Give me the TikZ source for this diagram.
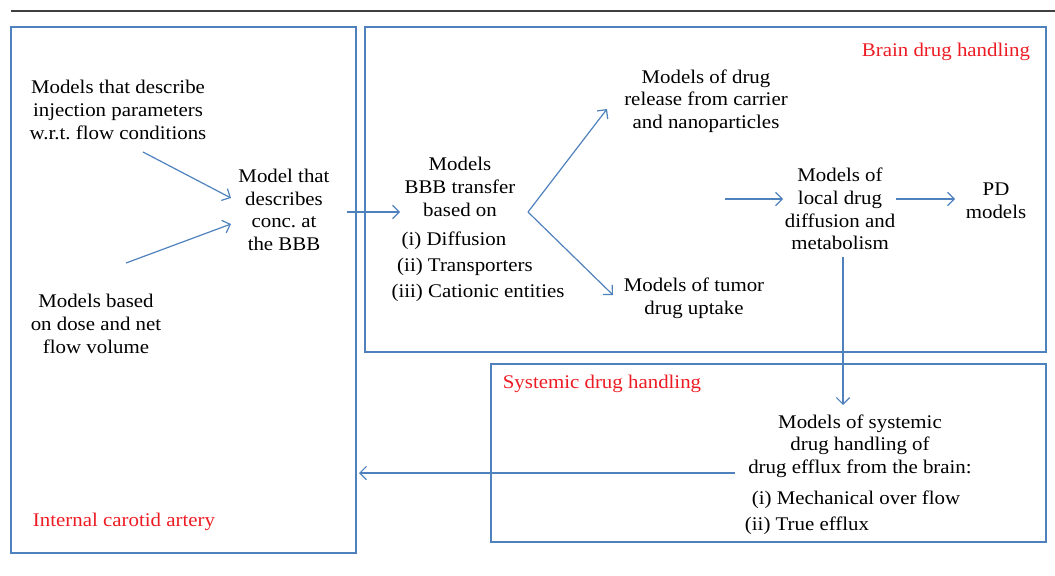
\documentclass[tikz,border=0pt]{standalone}
\usepackage{fontspec}
\setmainfont[FakeStretch=1.08]{Liberation Serif}
\usetikzlibrary{arrows.meta}
\definecolor{boxblue}{RGB}{79,129,189}
\definecolor{lblred}{RGB}{237,28,36}
\definecolor{rulegray}{RGB}{64,64,64}
\begin{document}
\begin{tikzpicture}[x=0.75pt,y=-0.75pt,
  txt/.style={inner sep=0pt,align=center,font=\fontsize{14.5}{17}\selectfont},
  lbl/.style={inner sep=0pt,text=lblred,font=\fontsize{14.5}{17}\selectfont},
  frame/.style={draw=boxblue,line width=1.1pt},
  arr/.style={draw=boxblue,line width=0.9pt,-{Straight Barb[length=5pt,width=10pt]}}]
\useasboundingbox (0,0) rectangle (1055,575);
% top rule
\draw[rulegray,line width=1.5pt] (11,10.5) -- (1055,10.5);
% frames
\draw[frame] (11,27) rectangle (356,553);
\draw[frame] (365,27) rectangle (1046,352);
\draw[frame] (491,364) rectangle (1046,542);
% labels
\node[lbl] (lbrain) at (946,52) {Brain drug handling};
\node[lbl] (lica) at (124,522) {Internal carotid artery};
\node[lbl] (lsys) at (602,384) {Systemic drug handling};
% text nodes
\node[txt] (inj) at (118,110) {Models that describe\\injection parameters\\w.r.t.\ flow conditions};
\node[txt] (conc) at (284,210) {Model that\\describes\\conc.\ at\\the BBB};
\node[txt] (dose) at (96,324) {Models based\\on dose and net\\flow volume};
\node[txt] (bbb) at (460,187) {Models\\BBB transfer\\based on};
\node[txt] (l1) at (454,241) {(i) Diffusion};
\node[txt] (l2) at (465,267) {(ii) Transporters};
\node[txt] (l3) at (478,293) {(iii) Cationic entities};
\node[txt] (rel) at (706,101) {Models of drug\\release from carrier\\and nanoparticles};
\node[txt] (tum) at (694,298) {Models of tumor\\drug uptake};
\node[txt] (loc) at (840,209) {Models of\\local drug\\diffusion and\\metabolism};
\node[txt] (pd) at (996,201) {PD\\models};
\node[txt] (sys) at (860,446) {Models of systemic\\drug handling of\\drug efflux from the brain:};
\node[txt] (s1) at (856,500) {(i) Mechanical over flow};
\node[txt] (s2) at (807,526) {(ii) True efflux};
% connector end points
\coordinate (a1s) at (143,152); \coordinate (a1e) at (231,198);
\coordinate (a2s) at (126,263); \coordinate (a2e) at (231,224);
\coordinate (a3s) at (347,212); \coordinate (a3e) at (400,212);
\coordinate (fork) at (528,212);
\coordinate (a4e) at (607,109);
\coordinate (a5e) at (613,295);
\coordinate (a6s) at (725,199); \coordinate (a6e) at (783,199);
\coordinate (a7s) at (896,199); \coordinate (a7e) at (955,199);
\coordinate (a8s) at (843,257); \coordinate (a8e) at (843,405);
\coordinate (a9s) at (735,473); \coordinate (a9e) at (359,473);
% connectors
\draw[arr] (a1s) -- (a1e);
\draw[arr] (a2s) -- (a2e);
\draw[arr] (a3s) -- (a3e);
\draw[arr] (fork) -- (a4e);
\draw[arr] (fork) -- (a5e);
\draw[arr] (a6s) -- (a6e);
\draw[arr] (a7s) -- (a7e);
\draw[arr] (a8s) -- (a8e);
\draw[arr] (a9s) -- (a9e);
\end{tikzpicture}
\end{document}
